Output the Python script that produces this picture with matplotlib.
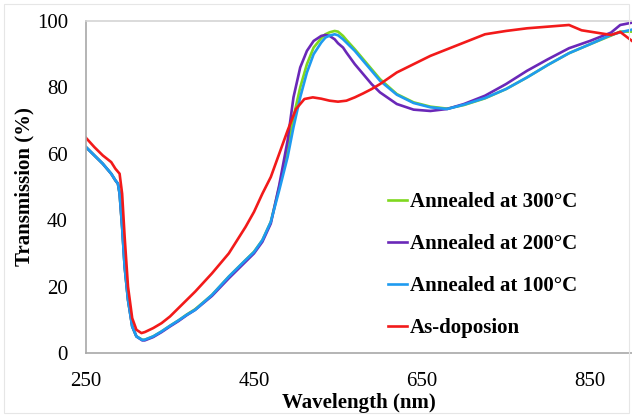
import matplotlib
matplotlib.use("Agg")
import matplotlib.pyplot as plt
from matplotlib.patches import Rectangle

# Wavelength grids (nm)
wl_red = [250, 260, 270, 280, 285, 290, 293, 296, 300, 305, 310, 316, 320, 330, 340, 350, 360, 370,
          380, 400, 420, 440, 450, 460, 470, 480, 490, 500, 510, 520, 530, 540, 550, 560, 570,
          580, 590, 600, 620, 640, 660, 680, 700, 725, 750, 775, 800, 825, 840, 850, 875, 886, 900]
as_dep = [64.8, 62.0, 59.5, 57.5, 55.5, 54.0, 48.0, 35.0, 20.0, 10.5, 7.0, 6.0, 6.3, 7.5, 9.0, 11.0, 13.5, 16.0,
          18.5, 24.0, 30.0, 38.0, 42.5, 48.0, 53.0, 60.0, 67.0, 73.5, 76.5, 77.0, 76.6, 76.0, 75.7, 76.0, 77.0,
          78.2, 79.5, 81.0, 84.5, 87.0, 89.5, 91.5, 93.5, 96.0, 97.0, 97.8, 98.3, 98.8, 97.2, 96.8, 95.8, 96.7, 94.0]

wl_ann = [250, 260, 270, 280, 285, 288, 290, 293, 296, 300, 305, 310, 317, 320, 330, 340, 350, 360, 370,
          380, 400, 420, 440, 450, 460, 470, 480, 490, 497, 505, 513, 521, 530, 535, 540, 546, 550, 556, 560,
          570, 580, 590, 600, 620, 640, 660, 680, 700, 725, 750, 775, 800, 825, 850, 875, 886, 900]
ann_300 = [62.0, 59.5, 57.0, 54.0, 52.0, 51.0, 48.0, 38.0, 26.0, 16.0, 8.0, 5.0, 4.0, 4.0, 5.0, 6.5, 8.2, 9.8, 11.6,
           13.2, 17.5, 23.0, 28.0, 30.5, 34.0, 39.5, 50.0, 61.0, 71.0, 80.0, 87.0, 92.0, 94.8, 96.0, 96.6, 97.0, 96.8, 95.5, 94.3,
           91.5, 88.5, 85.5, 82.5, 78.0, 75.5, 74.2, 73.6, 74.7, 76.7, 79.5, 83.0, 86.8, 90.3, 93.0, 95.6, 96.8, 96.8]
ann_200 = [62.0, 59.5, 57.0, 54.0, 52.0, 51.0, 48.0, 38.0, 26.0, 16.0, 8.0, 5.0, 3.8, 3.8, 4.8, 6.3, 8.0, 9.6, 11.4,
           13.0, 17.2, 22.5, 27.5, 30.0, 33.5, 39.0, 50.5, 64.0, 77.0, 86.0, 91.0, 94.0, 95.5, 95.8, 95.5, 94.5, 93.3, 92.0, 90.5,
           87.0, 84.0, 81.0, 78.5, 75.0, 73.3, 72.9, 73.5, 75.0, 77.5, 81.0, 85.0, 88.5, 91.8, 94.0, 96.5, 98.8, 99.5]
ann_100 = [62.0, 59.5, 57.0, 54.0, 52.0, 51.0, 48.0, 38.0, 26.0, 16.0, 8.0, 5.0, 3.9, 4.0, 5.0, 6.5, 8.2, 9.8, 11.5,
           13.0, 17.5, 23.0, 28.0, 30.4, 34.0, 39.5, 49.0, 59.0, 68.0, 77.0, 84.5, 90.0, 93.5, 95.0, 95.6, 96.0, 95.7, 94.5, 93.5,
           91.0, 88.0, 85.0, 82.0, 77.8, 75.3, 74.0, 73.5, 74.8, 76.8, 79.5, 83.0, 86.8, 90.3, 93.0, 95.8, 96.6, 97.4]

labels = ["Annealed at 300\u00b0C", "Annealed at 200\u00b0C", "Annealed at 100\u00b0C", "As-doposion"]
colors = ["#7FD81E", "#6A28B8", "#1E9BF0", "#F21A1A"]

x_ticks = [250, 450, 650, 850]
y_ticks = [0, 20, 40, 60, 80, 100]

plt.rcParams['font.family'] = ['Liberation Serif', 'DejaVu Serif']

fig = plt.figure(figsize=(6.32, 4.15), dpi=100)
fig.patches.append(Rectangle((0.006, 0.006), 0.99, 0.985, transform=fig.transFigure,
                             fill=False, edgecolor="#e6e6e6", linewidth=0.8))
ax = fig.add_axes([86 / 632, 62 / 415, 1 - 86 / 632, 332 / 415])

series = [ann_300, ann_200, ann_100, as_dep]
wls = [wl_ann, wl_ann, wl_ann, wl_red]
handles = []
for wl, s, c, lab in zip(wls, series, colors, labels):
    h, = ax.plot(wl, s, color=c, linewidth=1.9, label=lab)
    handles.append(h)

ax.set_xlim(250, 900)
ax.set_ylim(0, 100)
ax.set_xticks(x_ticks)
ax.set_yticks(y_ticks)
ax.tick_params(length=0, labelsize=15, pad=13)
ax.tick_params(axis='x', pad=14)
for sp in ['left', 'bottom', 'top']:
    ax.spines[sp].set_color('#a8a8a8')
    ax.spines[sp].set_linewidth(1.2)
ax.spines['top'].set_color('#d4d4d4')
ax.spines['right'].set_visible(False)

ax.set_xlabel("Wavelength (nm)", fontsize=15, fontweight='bold', labelpad=1)
ax.set_ylabel("Transmission (%)", fontsize=15, fontweight='bold', labelpad=2)

leg = ax.legend(handles=handles, loc='center left', bbox_to_anchor=(388 / 632, 1 - 265 / 415),
                bbox_transform=fig.transFigure, frameon=False, fontsize=15,
                handlelength=0.9, handletextpad=0.15, labelspacing=1.05,
                borderpad=0, borderaxespad=0)
for t in leg.get_texts():
    t.set_fontweight('bold')

fig.savefig("out.png", dpi=100)
